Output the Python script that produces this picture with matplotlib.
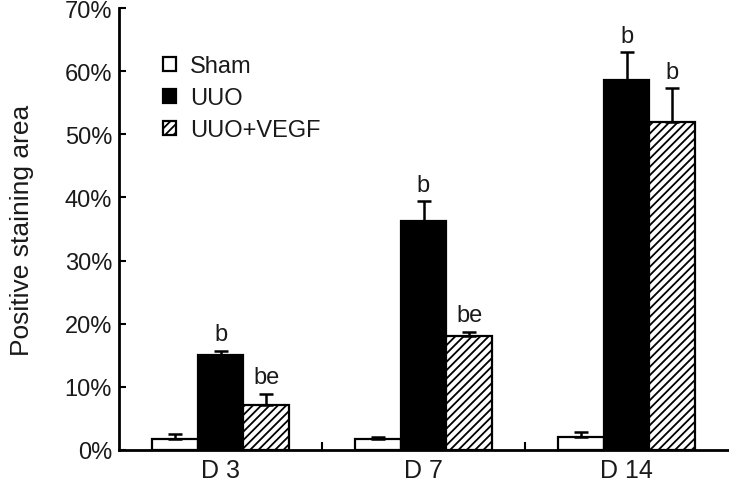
import matplotlib
matplotlib.use("Agg")
import matplotlib.pyplot as plt
import numpy as np

plt.rcParams['font.family'] = ['Liberation Sans', 'DejaVu Sans']
plt.rcParams['hatch.linewidth'] = 1.3

categories = ["D 3", "D 7", "D 14"]
series = ["Sham", "UUO", "UUO+VEGF"]
sham = [1.7, 1.7, 2.1]
sham_err = [0.8, 0.3, 0.8]
uuo = [15.1, 36.3, 58.6]
uuo_err = [0.6, 3.1, 4.4]
vegf = [7.1, 18.1, 51.9]
vegf_err = [1.8, 0.6, 5.4]
uuo_labels = ["b", "b", "b"]
vegf_labels = ["be", "be", "b"]
yticks = [0, 10, 20, 30, 40, 50, 60, 70]

txt = '#1a1a1a'
fig = plt.figure(figsize=(7.29, 4.89), dpi=100)
ax = fig.add_axes([119/729, 1-451/489, 609/729, 442/489])

x = np.arange(len(categories))
w = 0.226
ekw = dict(elinewidth=1.8, capthick=1.8, ecolor='black')
ax.bar(x - w, sham, w, color='white', edgecolor='black', linewidth=1.6, label=series[0])
ax.bar(x, uuo, w, color='black', edgecolor='black', linewidth=1.6, label=series[1])
ax.bar(x + w, vegf, w, color='white', edgecolor='black', linewidth=1.6, hatch='////', label=series[2])
ax.errorbar(x - w, sham, yerr=[np.zeros(3), sham_err], fmt='none', capsize=5, **ekw)
ax.errorbar(x, uuo, yerr=[np.zeros(3), uuo_err], fmt='none', capsize=5, **ekw)
ax.errorbar(x + w, vegf, yerr=[np.zeros(3), vegf_err], fmt='none', capsize=5, **ekw)

for i in range(3):
    ax.text(x[i], uuo[i] + uuo_err[i] + 0.9, uuo_labels[i], ha='center', va='bottom', fontsize=17, color=txt)
    ax.text(x[i] + w, vegf[i] + vegf_err[i] + 0.9, vegf_labels[i], ha='center', va='bottom', fontsize=17, color=txt)

ax.set_xlim(-0.5, 2.5)
ax.set_ylim(0, 70)
ax.set_yticks(yticks)
ax.set_yticklabels([f"{v}%" for v in yticks], fontsize=17, color=txt)
ax.set_xticks(x)
ax.set_xticklabels(categories, fontsize=18, color=txt)
ax.set_xticks([0.5, 1.5], minor=True)
ax.tick_params(axis='x', which='major', length=0, pad=6)
ax.tick_params(axis='x', which='minor', direction='in', length=6, width=1.5)
ax.tick_params(axis='y', direction='in', length=5, width=1.5, pad=5)
ax.set_ylabel("Positive staining area", fontsize=19, color=txt, labelpad=22)

for s in ['top', 'right']:
    ax.spines[s].set_visible(False)
for s in ['left', 'bottom']:
    ax.spines[s].set_linewidth(2)

leg = ax.legend(loc='upper left', bbox_to_anchor=(0.072, 0.893), frameon=False, fontsize=17,
                handlelength=0.55, handleheight=0.55, handletextpad=0.6, labelspacing=0.42,
                borderpad=0, borderaxespad=0)
for t in leg.get_texts():
    t.set_color(txt)

fig.savefig("out.png", dpi=100)
